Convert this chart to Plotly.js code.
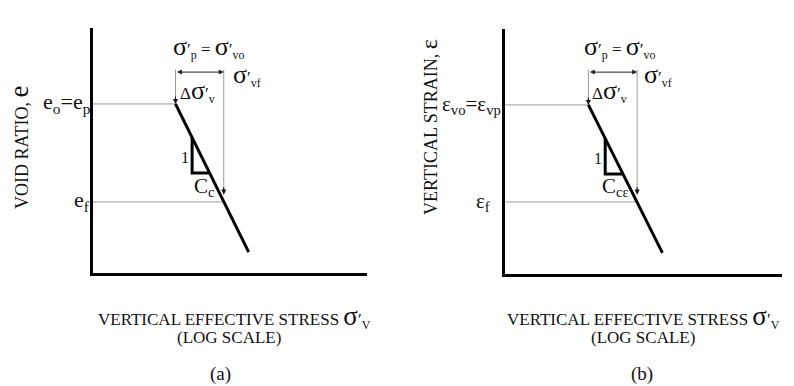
<!DOCTYPE html>
<html>
<head>
<meta charset="utf-8">
<script src="https://cdn.plot.ly/plotly-3.0.1.min.js"></script>
<style>html,body{margin:0;padding:0;background:#fff;}#chart{width:794px;height:386px;}</style>
</head>
<body>
<div id="chart"></div>
<script>
// Conceptual values (log stress, normalized void ratio / strain)
const stressPoints = [2.0, 3.0, 3.7];          // σ'p=σ'vo, σ'vf, end of line
const voidRatio   = [0.69, 0.29, 0.085];       // e0=ep, ef, end
const strain      = [0.31, 0.706, 0.914];      // εvo=εvp, εf, end
const triStress   = [2.3, 2.3, 2.67];          // slope triangle
const triVoid     = [0.552, 0.408, 0.408];
const triStrain   = [0.447, 0.592, 0.592];
const axisStart   = 1.0;                       // left end of log axis
const voidTop     = 0.83;                      // top of reference lines (a)
const strainTop   = 0.167;                     // top of reference lines (b)
const voidArrow   = 0.82;
const strainArrow = 0.176;

const W = 794, H = 386;
const px = x => x / W, py = y => 1 - y / H;
const SERIF = 'Liberation Serif, Times New Roman, serif';
const L = Math.log10;
const gray = '#9a9a9a';

function line(x, y, xa, ya, color, width) {
  return {x, y, xaxis: xa, yaxis: ya, type: 'scatter', mode: 'lines',
          line: {color, width}, hoverinfo: 'skip', showlegend: false};
}

const traces = [
  // panel (a)
  line([axisStart, stressPoints[0]], [voidRatio[0], voidRatio[0]], 'x', 'y', gray, 1),
  line([axisStart, stressPoints[1]], [voidRatio[1], voidRatio[1]], 'x', 'y', gray, 1),
  line([stressPoints[0], stressPoints[0]], [voidTop, voidRatio[0]], 'x', 'y', gray, 1),
  line([stressPoints[1], stressPoints[1]], [voidTop, voidRatio[1] + 0.03], 'x', 'y', gray, 1),
  line([stressPoints[0], stressPoints[2]], [voidRatio[0], voidRatio[2]], 'x', 'y', '#000', 3),
  line(triStress, triVoid, 'x', 'y', '#000', 3),
  // panel (b)
  line([axisStart, stressPoints[0]], [strain[0], strain[0]], 'x2', 'y2', gray, 1),
  line([axisStart, stressPoints[1]], [strain[1], strain[1]], 'x2', 'y2', gray, 1),
  line([stressPoints[0], stressPoints[0]], [strainTop, strain[0]], 'x2', 'y2', gray, 1),
  line([stressPoints[1], stressPoints[1]], [strainTop, strain[1] - 0.03], 'x2', 'y2', gray, 1),
  line([stressPoints[0], stressPoints[2]], [strain[0], strain[2]], 'x2', 'y2', '#000', 3),
  line(triStress, triStrain, 'x2', 'y2', '#000', 3)
];

function txt(x, y, text, size, extra) {
  return Object.assign({xref: 'paper', yref: 'paper', x: px(x), y: py(y), text,
    showarrow: false, xanchor: 'center', yanchor: 'middle',
    font: {family: SERIF, size, color: '#111'}}, extra || {});
}
function headDown(xa, ya, xv, yv) {
  return {xref: xa, yref: ya, x: L(xv), y: yv, ax: 0, ay: -9, text: '', showarrow: true,
          arrowhead: 2, arrowsize: 1, arrowwidth: 1, arrowcolor: '#111', standoff: 0};
}
function dbl(xa, ya, x0, x1, yv) {
  return {xref: xa, yref: ya, axref: xa, ayref: ya, x: L(x1), y: yv, ax: L(x0), ay: yv,
          text: '', showarrow: true, arrowhead: 2, startarrowhead: 2, arrowside: 'end+start',
          arrowsize: 1, startarrowsize: 1, arrowwidth: 1, arrowcolor: '#222', standoff: 0, startstandoff: 0};
}
const S = '<span style="font-size:26px">σ</span>';
const SB = '<span style="font-size:27px">σ</span>';

const annotations = [
  // panel (a)
  headDown('x', 'y', stressPoints[0], voidRatio[0]),
  headDown('x', 'y', stressPoints[1], voidRatio[1] + 0.03),
  dbl('x', 'y', stressPoints[0], stressPoints[1], voidArrow),
  txt(208, 47, S + '′<sub>p</sub> = ' + S + '′<sub>vo</sub>', 17),
  txt(247, 75, S + '′<sub>vf</sub>', 17),
  txt(197, 91, 'Δ' + S + '′<sub>v</sub>', 17),
  txt(67, 103, 'e<sub>o</sub>=e<sub>p</sub>', 22),
  txt(82, 201, 'e<sub>f</sub>', 22),
  txt(185, 157, '1', 16),
  txt(204, 187, 'C<sub>c</sub>', 21),
  txt(19, 147, 'VOID RATIO, <span style="font-size:27px">e</span>', 18, {textangle: -90}),
  txt(234, 316, 'VERTICAL EFFECTIVE STRESS ' + SB + '′<sub>V</sub>', 17),
  txt(229, 337, '(LOG SCALE)', 17),
  txt(220, 374, '(a)', 19),
  // panel (b)
  headDown('x2', 'y2', stressPoints[0], strain[0]),
  headDown('x2', 'y2', stressPoints[1], strain[1] - 0.03),
  dbl('x2', 'y2', stressPoints[0], stressPoints[1], strainArrow),
  txt(619, 47, S + '′<sub>p</sub> = ' + S + '′<sub>vo</sub>', 17),
  txt(658, 75, S + '′<sub>vf</sub>', 17),
  txt(609, 91, 'Δ' + S + '′<sub>v</sub>', 17),
  txt(472, 105, 'ε<sub>vo</sub>=ε<sub>vp</sub>', 21),
  txt(483, 202, 'ε<sub>f</sub>', 21),
  txt(598, 158, '1', 16),
  txt(615, 187, 'C<sub>cε</sub>', 21),
  txt(429, 127, 'VERTICAL STRAIN, <span style="font-size:24px">ε</span>', 18, {textangle: -90}),
  txt(643, 316, 'VERTICAL EFFECTIVE STRESS ' + SB + '′<sub>V</sub>', 17),
  txt(643, 337, '(LOG SCALE)', 17),
  txt(642, 374, '(b)', 19)
];

function xax(x0, x1) {
  return {type: 'log', range: [0, 1], domain: [px(x0), px(x1)], showgrid: false, zeroline: false,
          showticklabels: false, ticks: '', showline: true, linecolor: '#000', linewidth: 3, fixedrange: true};
}
function yax(y0, y1, range, anchor) {
  return {range, domain: [py(y1), py(y0)], showgrid: false, zeroline: false, anchor,
          showticklabels: false, ticks: '', showline: true, linecolor: '#000', linewidth: 3, fixedrange: true};
}

const layout = {
  width: W, height: H, margin: {l: 0, r: 0, t: 0, b: 0},
  paper_bgcolor: '#fff', plot_bgcolor: '#fff', showlegend: false,
  xaxis: Object.assign(xax(93, 367), {anchor: 'y'}),
  yaxis: yax(28, 273, [0, 1], 'x'),
  xaxis2: Object.assign(xax(505, 782), {anchor: 'y2'}),
  yaxis2: yax(29, 274, [1, 0], 'x2'),
  annotations
};

Plotly.newPlot('chart', traces, layout, {staticPlot: true, displayModeBar: false});
</script>
</body>
</html>
